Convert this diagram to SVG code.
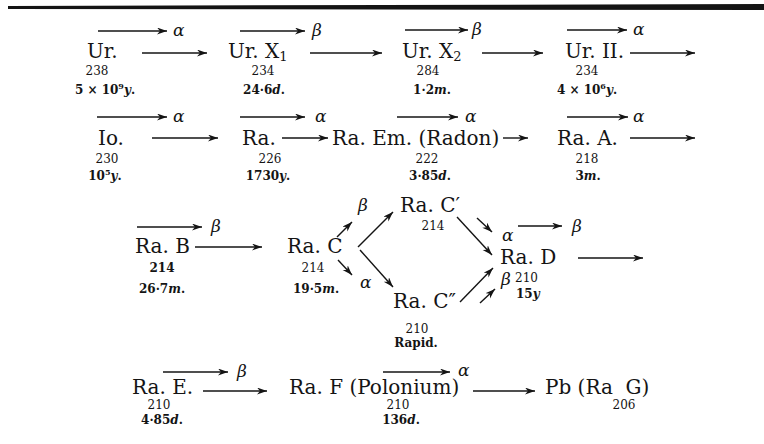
<svg xmlns="http://www.w3.org/2000/svg" width="764" height="444" viewBox="0 0 764 444">
<style>
  text { font-family: "DejaVu Serif", "Liberation Serif", serif; fill: #141414; }
  .nm { font-size: 20px; }
  .ms { font-size: 12px; text-anchor: middle; }
  .hl { font-size: 12px; text-anchor: middle; font-weight: bold; }
  .gr { font-size: 17px; font-style: italic; }
  .sub { font-size: 13px; }
  .sup { font-size: 8px; }
  .it { font-style: italic; }
  line.a { stroke: #141414; stroke-width: 1.4; marker-end: url(#ah); }
</style>
<defs>
  <marker id="ah" markerUnits="userSpaceOnUse" markerWidth="11" markerHeight="8" refX="10" refY="3.5" orient="auto">
    <path d="M0,0 L10,3.5 L0,7 L3,3.5 z" fill="#141414"/>
  </marker>
</defs>
<rect width="764" height="444" fill="#ffffff"/>
<path d="M8,6 L764,4 L764,10 L8,9 z" fill="#141414"/>

<g id="ur">
  <text class="nm" x="87" y="58">Ur.</text>
  <text class="ms" x="97" y="75">238</text>
  <text class="hl" x="105" y="94">5 × 10<tspan class="sup" dy="-5">9</tspan><tspan class="it" dy="5">y</tspan>.</text>
</g>
<g id="urx1">
  <text class="nm" x="228" y="58">Ur. X<tspan class="sub" dy="3">1</tspan></text>
  <text class="ms" x="263" y="75">234</text>
  <text class="hl" x="264" y="94">24·6<tspan class="it">d</tspan>.</text>
</g>
<g id="urx2">
  <text class="nm" x="402" y="58">Ur. X<tspan class="sub" dy="3">2</tspan></text>
  <text class="ms" x="428" y="75">284</text>
  <text class="hl" x="432" y="94">1·2<tspan class="it">m</tspan>.</text>
</g>
<g id="urii">
  <text class="nm" x="565" y="58">Ur. II.</text>
  <text class="ms" x="587" y="75">234</text>
  <text class="hl" x="587" y="94">4 × 10<tspan class="sup" dy="-5">6</tspan><tspan class="it" dy="5">y</tspan>.</text>
</g>

<g id="io">
  <text class="nm" x="98" y="145">Io.</text>
  <text class="ms" x="107" y="163">230</text>
  <text class="hl" x="105" y="180">10<tspan class="sup" dy="-5">5</tspan><tspan class="it" dy="5">y</tspan>.</text>
</g>
<g id="ra">
  <text class="nm" x="242" y="145">Ra.</text>
  <text class="ms" x="270" y="163">226</text>
  <text class="hl" x="268" y="180">1730<tspan class="it">y</tspan>.</text>
</g>
<g id="raem">
  <text class="nm" x="332" y="145">Ra. Em. (Radon)</text>
  <text class="ms" x="427" y="163">222</text>
  <text class="hl" x="430" y="180">3·85<tspan class="it">d</tspan>.</text>
</g>
<g id="raa">
  <text class="nm" x="557" y="145">Ra. A.</text>
  <text class="ms" x="587" y="163">218</text>
  <text class="hl" x="588" y="180">3<tspan class="it">m</tspan>.</text>
</g>

<g id="rab">
  <text class="nm" x="135" y="253">Ra. B</text>
  <text class="ms" x="162" y="272" font-weight="bold">214</text>
  <text class="hl" x="162" y="293">26·7<tspan class="it">m</tspan>.</text>
</g>
<g id="rac">
  <text class="nm" x="287" y="253">Ra. C</text>
  <text class="ms" x="313" y="272">214</text>
  <text class="hl" x="316" y="293">19·5<tspan class="it">m</tspan>.</text>
</g>
<g id="rac1">
  <text class="nm" x="400" y="212">Ra. C′</text>
  <text class="ms" x="433" y="230">214</text>
</g>
<g id="rac2">
  <text class="nm" x="393" y="308">Ra. C″</text>
  <text class="ms" x="417" y="333">210</text>
  <text class="hl" x="416" y="347">Rapid.</text>
</g>
<g id="rad">
  <text class="nm" x="500" y="264">Ra. D</text>
  <text class="ms" x="515" y="282" style="text-anchor:start">210</text>
  <text class="hl" x="516" y="298" style="text-anchor:start">15<tspan class="it">y</tspan></text>
</g>

<g id="rae">
  <text class="nm" x="132" y="394">Ra. E.</text>
  <text class="ms" x="159" y="409">210</text>
  <text class="hl" x="162" y="424">4·85<tspan class="it">d</tspan>.</text>
</g>
<g id="raf">
  <text class="nm" x="289" y="394">Ra. F (Polonium)</text>
  <text class="ms" x="398" y="409">210</text>
  <text class="hl" x="401" y="424">136<tspan class="it">d</tspan>.</text>
</g>
<g id="pb">
  <text class="nm" x="545" y="394" xml:space="preserve">Pb (Ra  G)</text>
  <text class="ms" x="624" y="409">206</text>
</g>

<g id="connectors">
  <!-- row 1 -->
  <line class="a" x1="98" y1="31" x2="167" y2="31"/><text class="gr" x="173" y="36">α</text>
  <line class="a" x1="142" y1="53" x2="207" y2="53"/>
  <line class="a" x1="240" y1="31" x2="305" y2="31"/><text class="gr" x="312" y="36">β</text>
  <line class="a" x1="310" y1="53" x2="382" y2="53"/>
  <line class="a" x1="405" y1="30" x2="468" y2="30"/><text class="gr" x="472" y="35">β</text>
  <line class="a" x1="482" y1="53" x2="543" y2="53"/>
  <line class="a" x1="567" y1="30" x2="627" y2="30"/><text class="gr" x="633" y="35">α</text>
  <line class="a" x1="630" y1="53" x2="695" y2="53"/>
  <!-- row 2 -->
  <line class="a" x1="97" y1="117" x2="167" y2="117"/><text class="gr" x="173" y="122">α</text>
  <line class="a" x1="152" y1="138" x2="218" y2="138"/>
  <line class="a" x1="240" y1="117" x2="305" y2="117"/><text class="gr" x="315" y="122">α</text>
  <line class="a" x1="282" y1="138" x2="328" y2="138"/>
  <line class="a" x1="397" y1="117" x2="458" y2="117"/><text class="gr" x="465" y="122">α</text>
  <line class="a" x1="503" y1="138" x2="528" y2="138"/>
  <line class="a" x1="567" y1="117" x2="628" y2="117"/><text class="gr" x="633" y="122">α</text>
  <line class="a" x1="630" y1="138" x2="695" y2="138"/>
  <!-- row 3 -->
  <line class="a" x1="137" y1="227" x2="202" y2="227"/><text class="gr" x="211" y="232">β</text>
  <line class="a" x1="195" y1="247" x2="262" y2="247"/>
  <line class="a" x1="337" y1="237" x2="352" y2="222"/><text class="gr" x="358" y="211">β</text>
  <line class="a" x1="358" y1="247" x2="393" y2="212"/>
  <line class="a" x1="338" y1="260" x2="352" y2="275"/><text class="gr" x="360" y="288">α</text>
  <line class="a" x1="360" y1="250" x2="393" y2="287"/>
  <line class="a" x1="457" y1="217" x2="492" y2="255"/>
  <line class="a" x1="477" y1="218" x2="492" y2="232"/><text class="gr" x="502" y="241">α</text>
  <line class="a" x1="518" y1="226" x2="562" y2="226"/><text class="gr" x="572" y="232">β</text>
  <line class="a" x1="460" y1="302" x2="493" y2="268"/>
  <line class="a" x1="480" y1="303" x2="495" y2="289"/><text class="gr" x="501" y="285">β</text>
  <line class="a" x1="578" y1="258" x2="643" y2="258"/>
  <!-- row 4 -->
  <line class="a" x1="163" y1="372" x2="228" y2="372"/><text class="gr" x="237" y="377">β</text>
  <line class="a" x1="203" y1="391" x2="267" y2="391"/>
  <line class="a" x1="383" y1="372" x2="450" y2="372"/><text class="gr" x="458" y="376">α</text>
  <line class="a" x1="473" y1="391" x2="535" y2="391"/>
</g>
</svg>
